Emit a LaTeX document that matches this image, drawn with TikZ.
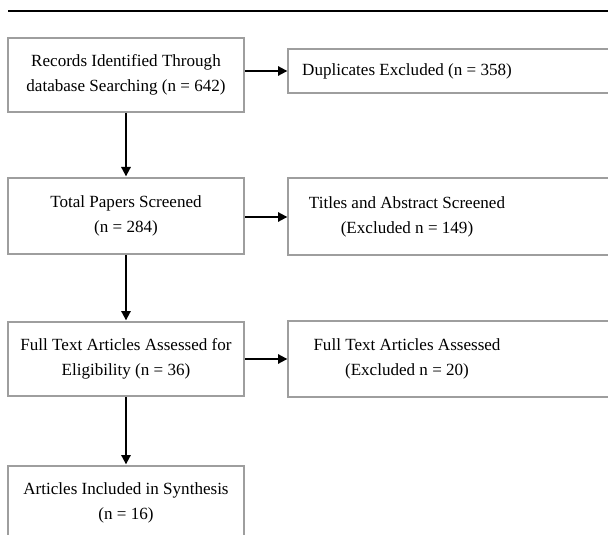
\documentclass[tikz,border=0pt]{standalone}
\usepackage{fontspec}
\setmainfont{Liberation Serif}
\usetikzlibrary{arrows.meta}
\usetikzlibrary{positioning}
\usetikzlibrary{calc}
\definecolor{boxgrey}{rgb}{0.62,0.62,0.62}

\tikzset{
	greyline/.style={draw=boxgrey, line width=1.5pt},
	stepbox/.style={greyline, minimum width=177pt, minimum height=55.5pt, align=center, inner sep=0pt, font=\fontsize{12.8}{18.5}\selectfont},
	outbox/.style={stepbox, draw=none},
	flow/.style={line width=1.4pt, -{Triangle[length=7pt,width=7pt]}, shorten >=0.5pt}
}

\begin{document}
\begin{tikzpicture}[x=0.75pt, y=-0.75pt]
		\useasboundingbox (0,0) rectangle (608,535);
		\clip (0,0) rectangle (608,535);
		
		%rule on top
		\coordinate (ruleL) at (8,11);
		\coordinate (ruleR) at (608,11);
		\draw [line width=0.8pt] (ruleL) -- (ruleR);
		
		%main boxes
		\node[stepbox] (records) at (126,75) {Records Identified Through\\database Searching (n = 642)};
		\node[stepbox, minimum height=57pt] (screened) at (126,216) {Total Papers Screened\\(n = 284)};
		\node[stepbox] (fulltext) at (126,359) {Full Text Articles Assessed for\\Eligibility (n = 36)};
		\node[stepbox] (included) at (126,503) {Articles Included in Synthesis\\(n = 16)};
		
		%excluded boxes, cut off at the right
		\coordinate (edge) at (625,0);
		\node[outbox, minimum height=31.5pt] (dup) at (407,71) {Duplicates Excluded (n = 358)};
		\node[outbox, minimum height=56.25pt] (titles) at (407,217) {Titles and Abstract Screened\\(Excluded n = 149)};
		\node[outbox] (ftexcl) at (407,359) {Full Text Articles Assessed\\(Excluded n = 20)};
		\foreach \b in {dup,titles,ftexcl}
		\draw [greyline] (\b.north west) rectangle (\b.south east -| edge);
		
		%arrows
		\draw [flow] (records) -- (screened);
		\draw [flow] (screened) -- (fulltext);
		\draw [flow] (fulltext) -- (included);
		\draw [flow] (records.east |- dup.west) -- (dup.west);
		\draw [flow] (screened.east |- titles.west) -- (titles.west);
		\draw [flow] (fulltext.east |- ftexcl.west) -- (ftexcl.west);
\end{tikzpicture}
\end{document}
